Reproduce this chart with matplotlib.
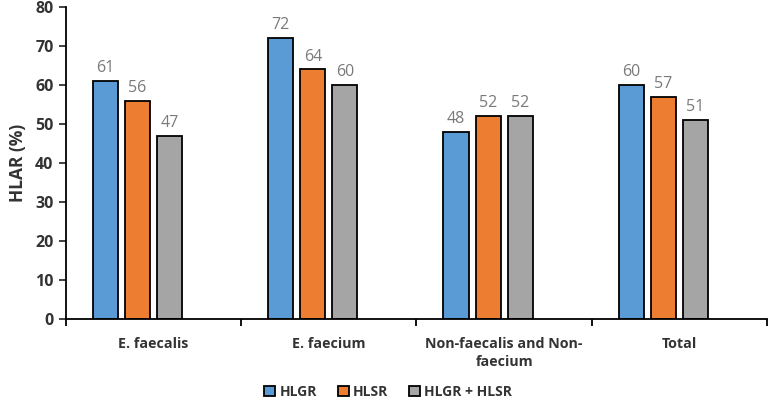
import matplotlib
matplotlib.use("Agg")
import matplotlib.pyplot as plt
import numpy as np

categories = ["E. faecalis", "E. faecium", "Non-faecalis and Non-\nfaecium", "Total"]
series_names = ["HLGR", "HLSR", "HLGR + HLSR"]
hlgr = [61, 72, 48, 60]
hlsr = [56, 64, 52, 57]
both = [47, 60, 52, 51]
colors = ["#5B9BD5", "#ED7D31", "#A5A5A5"]

plt.rcParams['font.family'] = ['Open Sans', 'DejaVu Sans']

fig = plt.figure(figsize=(7.72, 4.08), dpi=100)
ax = fig.add_axes([0.0855, 0.218, 0.908, 0.765])

x = np.arange(len(categories))
w = 0.143
off = 0.183
for i, (vals, name, c) in enumerate(zip([hlgr, hlsr, both], series_names, colors)):
    pos = x + (i - 1.5) * off
    ax.bar(pos, vals, width=w, color=c, edgecolor="black", linewidth=1.3, label=name)
    for p, v in zip(pos, vals):
        ax.text(p, v + 1.2, str(v), ha="center", va="bottom", fontsize=11.5, color="#7a7a7a")

ax.set_xlim(-0.5, len(categories) - 0.5)
ax.set_ylim(0, 80)
ax.set_yticks(range(0, 81, 10))
ax.set_xticks(np.arange(-0.5, len(categories), 1.0))
ax.set_xticklabels([])
ax.tick_params(axis="x", length=5, width=1.3, direction="out")
ax.tick_params(axis="y", length=5, width=1.3, direction="out", labelsize=11.5, colors="#333333", pad=4)
for lab in ax.get_yticklabels():
    lab.set_fontweight("bold")
for xi, cat in zip(x, categories):
    ax.text(xi, -4.5, cat, ha="center", va="top", fontsize=10.3, fontweight="bold", color="#333333",
            linespacing=1.4)
ax.spines["top"].set_visible(False)
ax.spines["right"].set_visible(False)
ax.spines["left"].set_linewidth(1.3)
ax.spines["bottom"].set_linewidth(1.3)
ax.set_ylabel("HLAR (%)", fontsize=12.5, fontweight="bold", color="#333333", labelpad=6)

leg = fig.legend(loc="center", bbox_to_anchor=(0.503, 0.04), ncol=3, frameon=False,
                 handlelength=0.8, handleheight=0.8, handletextpad=0.3, columnspacing=1.5,
                 prop={"weight": "bold", "size": 10})
for t in leg.get_texts():
    t.set_color("#333333")

fig.savefig("out.png", dpi=100)
